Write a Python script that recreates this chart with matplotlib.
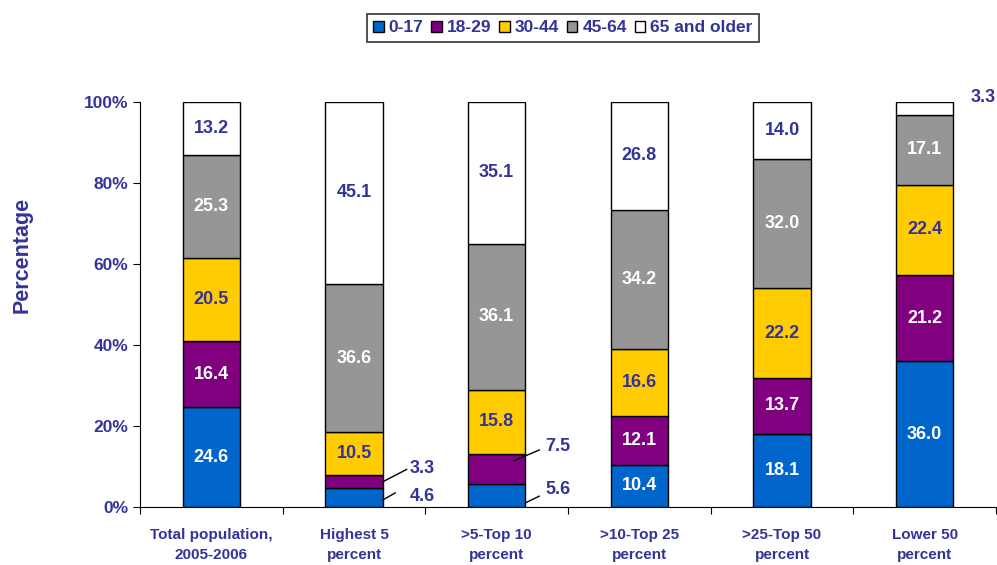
import matplotlib
matplotlib.use("Agg")
import matplotlib.pyplot as plt
from matplotlib.patches import Patch
import numpy as np

categories = ["Total population,\n2005-2006", "Highest 5\npercent", ">5-Top 10\npercent",
              ">10-Top 25\npercent", ">25-Top 50\npercent", "Lower 50\npercent"]
groups = ["0-17", "18-29", "30-44", "45-64", "65 and older"]
age_0_17 = [24.6, 4.6, 5.6, 10.4, 18.1, 36.0]
age_18_29 = [16.4, 3.3, 7.5, 12.1, 13.7, 21.2]
age_30_44 = [20.5, 10.5, 15.8, 16.6, 22.2, 22.4]
age_45_64 = [25.3, 36.6, 36.1, 34.2, 32.0, 17.1]
age_65_up = [13.2, 45.1, 35.1, 26.8, 14.0, 3.3]
series = [age_0_17, age_18_29, age_30_44, age_45_64, age_65_up]

colors = ["#0066CC", "#800080", "#FFCC00", "#969696", "#FFFFFF"]
text_colors = ["white", "white", "#333399", "white", "#333399"]
navy = "#333399"

plt.rcParams["font.family"] = ["Liberation Sans", "DejaVu Sans"]
plt.rcParams["font.weight"] = "bold"

fig = plt.figure(figsize=(9.97, 5.65), dpi=100)
ax = fig.add_axes([140 / 997, 58 / 565, 856 / 997, 405 / 565])

x = np.arange(len(categories))
width = 0.4
bottom = np.zeros(len(categories))
for vals, col, tcol in zip(series, colors, text_colors):
    vals = np.array(vals)
    ax.bar(x, vals, width, bottom=bottom, color=col, edgecolor="black", linewidth=1.0)
    for i, v in enumerate(vals):
        if v >= 10:
            ax.text(x[i], bottom[i] + v / 2, f"{v:.1f}", ha="center", va="center",
                    color=tcol, fontsize=13, fontweight="bold")
    bottom += vals

# small segments labelled outside with leader lines
lead = dict(arrowstyle="-", color="black", lw=1.0, shrinkA=0, shrinkB=0)
def outside(v, xy, xyt, xl, yl):
    ax.annotate("", xy=xy, xytext=xyt, arrowprops=lead)
    ax.text(xl, yl, f"{v:.1f}", ha="center", va="center", color=navy,
            fontsize=13, fontweight="bold")

outside(age_18_29[1], (1.2, 6.2), (1.37, 9.3), 1.48, 9.6)
outside(age_0_17[1], (1.2, 1.7), (1.29, 3.5), 1.48, 2.6)
outside(age_18_29[2], (2.12, 11.4), (2.30, 14.1), 2.43, 15.0)
outside(age_0_17[2], (2.2, 1.0), (2.30, 2.7), 2.43, 4.3)
ax.text(5.41, 101.2, f"{age_65_up[5]:.1f}", ha="center", va="center", color=navy,
        fontsize=13, fontweight="bold", clip_on=False)

ax.set_xlim(-0.5, 5.5)
ax.set_ylim(0, 100)
ax.set_yticks(np.arange(0, 101, 20))
ax.set_yticklabels([f"{t}%" for t in range(0, 101, 20)])
ax.set_xticks(np.arange(-0.5, 6, 1))
ax.set_xticklabels([])
ax.set_xticks(x, minor=True)
ax.set_xticklabels(categories, minor=True, linespacing=1.6)
ax.tick_params(axis="x", which="minor", length=0, pad=15, labelsize=11, labelcolor=navy)
ax.tick_params(axis="x", which="major", length=5, direction="out")
ax.tick_params(axis="y", length=5, direction="out", labelsize=12.5, labelcolor=navy)
for lab in ax.get_xticklabels(minor=True) + ax.get_yticklabels():
    lab.set_fontweight("bold")
ax.spines["top"].set_visible(False)
ax.spines["right"].set_visible(False)
ax.set_ylabel("Percentage", color=navy, fontsize=15.5, fontweight="bold")
ax.yaxis.set_label_coords(-107 / 856, (507 - 255) / 405)

handles = [Patch(facecolor=c, edgecolor="black", label=g) for c, g in zip(colors, groups)]
leg = fig.legend(handles=handles, loc="center", bbox_to_anchor=(563 / 997, 1 - 28 / 565),
                 ncol=5, frameon=True, fancybox=False, edgecolor="black",
                 handlelength=0.6, handleheight=0.6, handletextpad=0.3, columnspacing=0.45,
                 borderpad=0.35, prop={"weight": "bold", "size": 12.5})
for t in leg.get_texts():
    t.set_color(navy)
leg.get_frame().set_linewidth(1.2)

fig.savefig("out.png", dpi=100)
